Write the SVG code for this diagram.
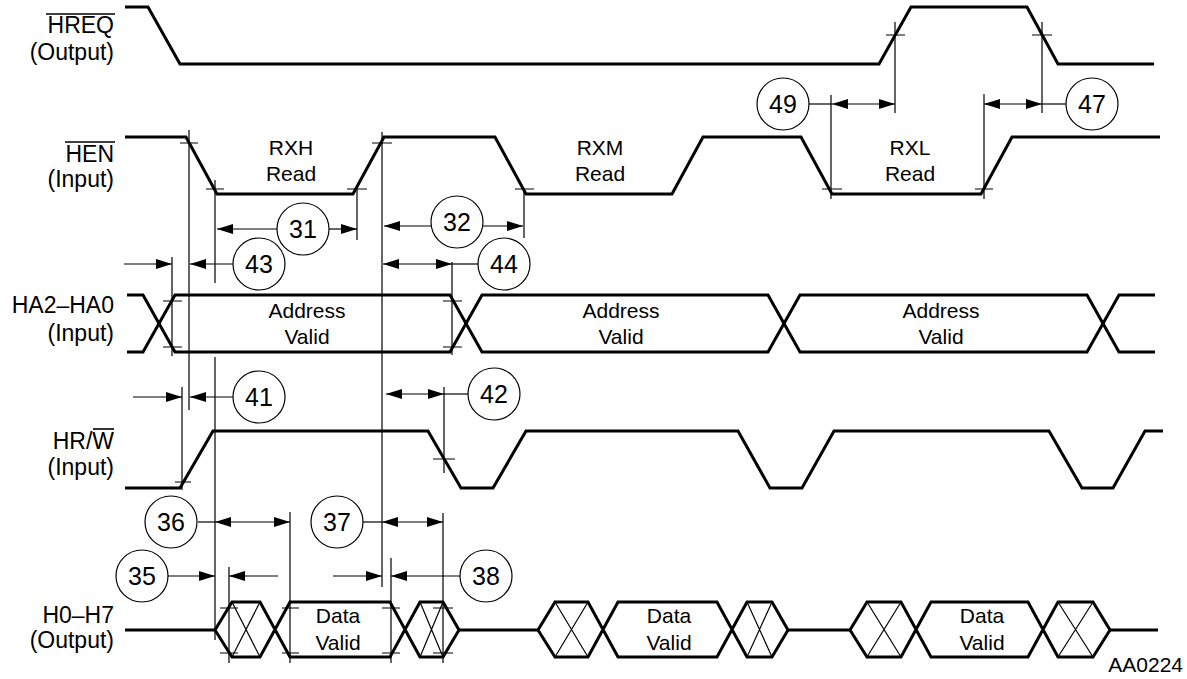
<svg xmlns="http://www.w3.org/2000/svg" width="1187" height="679" viewBox="0 0 1187 679">
<style>
  .sig{fill:none;stroke:#000;stroke-width:3;stroke-linejoin:miter;stroke-linecap:butt}
  .thin{fill:none;stroke:#000;stroke-width:1.2}
  .ovl{stroke:#000;stroke-width:1.6}
  .lbl{font-family:"Liberation Sans",Arial,sans-serif;font-size:23px;text-anchor:end;fill:#000}
  .in{font-family:"Liberation Sans",Arial,sans-serif;font-size:21px;text-anchor:middle;fill:#000}
  .num{font-family:"Liberation Sans",Arial,sans-serif;font-size:25px;text-anchor:middle;fill:#000}
  .circ{fill:#fff;stroke:#000;stroke-width:1.2}
  .arr{fill:none;stroke:#000;stroke-width:1.2;marker-end:url(#ah)}
  .darr{fill:none;stroke:#000;stroke-width:1.2;marker-start:url(#ah);marker-end:url(#ah)}
</style>
<defs>
  <marker id="ah" viewBox="0 0 16 10" refX="16" refY="5" markerWidth="16" markerHeight="10" markerUnits="userSpaceOnUse" orient="auto-start-reverse">
    <path d="M0,0 L16,5 L0,10 z" fill="#000"/>
  </marker>
</defs>
<rect width="1187" height="679" fill="#fff"/>

<g id="sig-hreq">
  <text class="lbl" x="114" y="33">HREQ</text>
  <line class="ovl" x1="46" y1="14" x2="115" y2="14"/>
  <text class="lbl" x="114" y="60">(Output)</text>
  <path class="sig" d="M125,7 H148 L180,64 H879 L911,7 H1027 L1058,64 H1154"/>
  <path class="thin" d="M886,35 H905 M1032,35 H1052"/>
</g>

<g id="sig-hen">
  <text class="lbl" x="114" y="162">HEN</text>
  <line class="ovl" x1="65" y1="142" x2="115" y2="142"/>
  <text class="lbl" x="114" y="187">(Input)</text>
  <path class="sig" d="M125,137 H186 L217,194 H353 L384,137 H495 L526,194 H672 L703,137 H801 L832,194 H981 L1012,137 H1160"/>
  <path class="thin" d="M180,143 H198 M206,189 H224 M347,189 H367 M372,143 H392 M515,189 H534 M822,189 H842 M975,189 H993"/>
  <text class="in" x="291" y="155">RXH</text>
  <text class="in" x="291" y="181">Read</text>
  <text class="in" x="600" y="155">RXM</text>
  <text class="in" x="600" y="181">Read</text>
  <text class="in" x="910" y="155">RXL</text>
  <text class="in" x="910" y="181">Read</text>
</g>

<g id="sig-ha">
  <text class="lbl" x="114" y="313">HA2–HA0</text>
  <text class="lbl" x="114" y="341">(Input)</text>
  <path class="sig" d="M127,295 H143 L175,352 H450 L482,295 H768 L800,352 H1087 L1119,295 H1155"/>
  <path class="sig" d="M127,352 H143 L175,295 H450 L482,352 H768 L800,295 H1087 L1119,352 H1155"/>
  <path class="thin" d="M163,301 H182 M163,347 H182 M443,301 H462 M443,347 H462"/>
  <text class="in" x="307" y="318">Address</text>
  <text class="in" x="307" y="344">Valid</text>
  <text class="in" x="621" y="318">Address</text>
  <text class="in" x="621" y="344">Valid</text>
  <text class="in" x="941" y="318">Address</text>
  <text class="in" x="941" y="344">Valid</text>
</g>

<g id="sig-hrw">
  <text class="lbl" x="114" y="449">HR/W</text>
  <line class="ovl" x1="93" y1="429" x2="114" y2="429"/>
  <text class="lbl" x="114" y="475">(Input)</text>
  <path class="sig" d="M125,488 H180 L213,431 H428 L461,488 H493 L526,431 H738 L770,488 H802 L834,431 H1049 L1082,488 H1113 L1145,431 H1163"/>
  <path class="thin" d="M175,482 H191 M433,459 H455"/>
</g>

<g id="sig-h0h7">
  <text class="lbl" x="114" y="623">H0–H7</text>
  <text class="lbl" x="114" y="648">(Output)</text>
  <path class="sig" d="M125,630 H215 M459,630 H538 M788,630 H850 M1110,630 H1158"/>
  <path class="sig" d="M215,630 L232,602 H260 L290,657 H390 L420,602 H443 L459,630 L443,657 H420 L390,602 H290 L260,657 H232 Z"/>
  <path class="sig" d="M538,630 L555,602 H588 L618,657 H717 L747,602 H772 L788,630 L772,657 H747 L717,602 H618 L588,657 H555 Z"/>
  <path class="sig" d="M850,630 L867,602 H901 L931,657 H1028 L1058,602 H1093 L1110,630 L1093,657 H1058 L1028,602 H931 L901,657 H867 Z"/>
  <path class="thin" d="M232,602 L260,657 M260,602 L232,657 M420,602 L443,657 M443,602 L420,657 M555,602 L588,657 M588,602 L555,657 M747,602 L772,657 M772,602 L747,657 M867,602 L901,657 M901,602 L867,657 M1058,602 L1093,657 M1093,602 L1058,657"/>
  <path class="thin" d="M220,608 H238 M220,653 H238 M282,608 H299 M282,653 H299 M382,608 H400 M382,653 H400 M433,608 H453 M433,653 H453"/>
  <text class="in" x="338" y="623">Data</text>
  <text class="in" x="338" y="650">Valid</text>
  <text class="in" x="669" y="623">Data</text>
  <text class="in" x="669" y="650">Valid</text>
  <text class="in" x="982" y="623">Data</text>
  <text class="in" x="982" y="650">Valid</text>
</g>

<g id="connectors">
  <g id="ref-lines">
    <path class="thin" d="M189,130 V410 M215,180 V283 M215,357 V640 M172,257 V356 M182,387 V490 M357,189 V240 M382,132 V587 M524,189 V238 M452,262 V355 M444,387 V473 M290,512 V663 M229,567 V663 M443,513 V663 M391,558 V663 M831,95 V199 M895,22 V113 M984,94 V199 M1042,22 V113"/>
  </g>
  <g id="arrows">
    <line class="thin" x1="809" y1="104" x2="832" y2="104"/>
    <line class="darr" x1="832" y1="104" x2="895" y2="104"/>
    <line class="darr" x1="984" y1="104" x2="1042" y2="104"/>
    <line class="thin" x1="1042" y1="104" x2="1066" y2="104"/>
    <line class="arr" x1="277" y1="229" x2="217" y2="229"/>
    <line class="arr" x1="329" y1="229" x2="357" y2="229"/>
    <line class="arr" x1="431" y1="226" x2="384" y2="226"/>
    <line class="arr" x1="483" y1="226" x2="523" y2="226"/>
    <line class="arr" x1="124" y1="264" x2="172" y2="264"/>
    <line class="arr" x1="233" y1="264" x2="190" y2="264"/>
    <line class="darr" x1="383" y1="264" x2="452" y2="264"/>
    <line class="thin" x1="452" y1="264" x2="478" y2="264"/>
    <line class="arr" x1="133" y1="397" x2="182" y2="397"/>
    <line class="arr" x1="233" y1="397" x2="190" y2="397"/>
    <line class="darr" x1="386" y1="394" x2="444" y2="394"/>
    <line class="thin" x1="444" y1="394" x2="468" y2="394"/>
    <line class="thin" x1="198" y1="522" x2="215" y2="522"/>
    <line class="darr" x1="215" y1="522" x2="290" y2="522"/>
    <line class="thin" x1="363" y1="522" x2="382" y2="522"/>
    <line class="darr" x1="382" y1="522" x2="443" y2="522"/>
    <line class="arr" x1="168" y1="576" x2="215" y2="576"/>
    <line class="arr" x1="278" y1="576" x2="229" y2="576"/>
    <line class="arr" x1="333" y1="576" x2="382" y2="576"/>
    <line class="arr" x1="460" y1="576" x2="391" y2="576"/>
  </g>
</g>

<g id="p49"><circle class="circ" cx="783" cy="104" r="26"/><text class="num" x="783" y="113">49</text></g>
<g id="p47"><circle class="circ" cx="1092" cy="104" r="26"/><text class="num" x="1092" y="113">47</text></g>
<g id="p31"><circle class="circ" cx="303" cy="229" r="26"/><text class="num" x="303" y="238">31</text></g>
<g id="p32"><circle class="circ" cx="457" cy="222" r="26"/><text class="num" x="457" y="231">32</text></g>
<g id="p43"><circle class="circ" cx="259" cy="264" r="26"/><text class="num" x="259" y="273">43</text></g>
<g id="p44"><circle class="circ" cx="504" cy="264" r="26"/><text class="num" x="504" y="273">44</text></g>
<g id="p41"><circle class="circ" cx="259" cy="397" r="26"/><text class="num" x="259" y="406">41</text></g>
<g id="p42"><circle class="circ" cx="494" cy="394" r="26"/><text class="num" x="494" y="403">42</text></g>
<g id="p36"><circle class="circ" cx="171" cy="522" r="26"/><text class="num" x="171" y="531">36</text></g>
<g id="p37"><circle class="circ" cx="337" cy="522" r="26"/><text class="num" x="337" y="531">37</text></g>
<g id="p35"><circle class="circ" cx="142" cy="576" r="26"/><text class="num" x="142" y="585">35</text></g>
<g id="p38"><circle class="circ" cx="486" cy="576" r="26"/><text class="num" x="486" y="585">38</text></g>

<text x="1183" y="672" font-family="Liberation Sans, Arial, sans-serif" font-size="21" text-anchor="end">AA0224</text>
</svg>
